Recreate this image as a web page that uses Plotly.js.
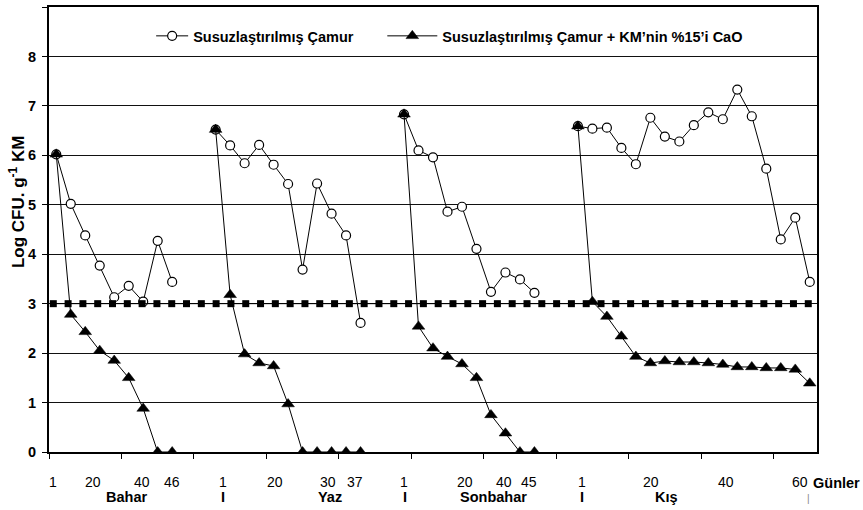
<!DOCTYPE html>
<html>
<head>
<meta charset="utf-8">
<script src="https://cdn.plot.ly/plotly-3.0.1.min.js"></script>
<style>html,body{margin:0;padding:0;background:#fff;}#chart{width:863px;height:510px;}</style>
</head>
<body>
<div id="chart"></div>
<script>
// ---- data (Log CFU g-1 KM) ----
const seriesNames = ['Susuzlaştırılmış Çamur', 'Susuzlaştırılmış Çamur + KM\u2019nin %15\u2019i CaO'];
const seasons = ['Bahar', 'Yaz', 'Sonbahar', 'Kış'];

const baharCamur    = [6.02, 5.02, 4.38, 3.77, 3.13, 3.36, 3.04, 4.27, 3.44];
const yazCamur      = [6.52, 6.20, 5.84, 6.21, 5.81, 5.42, 3.69, 5.43, 4.82, 4.38, 2.61];
const sonbaharCamur = [6.83, 6.10, 5.96, 4.86, 4.96, 4.11, 3.24, 3.63, 3.49, 3.22];
const kisCamur      = [6.59, 6.54, 6.56, 6.15, 5.82, 6.76, 6.38, 6.28, 6.61, 6.87, 6.73, 7.33, 6.79, 5.73, 4.30, 4.74, 3.44];

const baharCaO    = [6.02, 2.78, 2.43, 2.05, 1.85, 1.50, 0.88, 0, 0];
const yazCaO      = [6.52, 3.18, 1.98, 1.80, 1.74, 0.97, 0, 0, 0, 0, 0];
const sonbaharCaO = [6.83, 2.54, 2.10, 1.93, 1.78, 1.50, 0.75, 0.38, 0, 0];
const kisCaO      = [6.59, 3.04, 2.74, 2.34, 1.93, 1.80, 1.84, 1.82, 1.82, 1.80, 1.77, 1.72, 1.72, 1.70, 1.70, 1.67, 1.39];

const limitValue = 3;      // threshold line
const limitCount = 52;     // number of threshold markers

// axis label texts
const yTitle       = 'Log CFU. g<sup>-1</sup> KM';
const dayLabels    = ['1','20','40','46','1','20','30','37','1','20','40','45','1','20','40','60'];
const seasonLabels = ['Bahar','I','Yaz','I','Sonbahar','I','Kış'];
const unitLabel    = 'Günler';

// ---- layout helpers (positions in category units) ----
const gapSize = 2;
const dayLabelPos    = [-0.22, 2.56, 5.9, 7.97, 11.51, 15.1, 18.78, 20.62, 24.0, 28.21, 30.9, 32.65, 36.27, 41.03, 46.23, 51.33];
const seasonLabelPos = [4.87, 11.53, 18.9, 24.07, 30.17, 36.27, 42.13];

function joinSeasons(parts) {
  let out = [];
  parts.forEach((p, i) => {
    out = out.concat(p);
    if (i < parts.length - 1) for (let g = 0; g < gapSize; g++) out.push(null);
  });
  return out;
}
const camurAll = joinSeasons([baharCamur, yazCamur, sonbaharCamur, kisCamur]);
const caoAll   = joinSeasons([baharCaO, yazCaO, sonbaharCaO, kisCaO]);
const xIdx = camurAll.map((_, i) => i);
const limitY = Array.from({length: limitCount}, () => limitValue);
const limitX = limitY.map((_, i) => i);

const FONT = 'Liberation Sans, Arial, sans-serif';

const traces = [
  {
    x: limitX, y: limitY, xaxis: 'x2', yaxis: 'y', type: 'scatter', mode: 'lines+markers',
    line: {color: '#000', width: 1}, marker: {symbol: 'square', size: 7, color: '#000', line: {width: 0}},
    showlegend: false, hoverinfo: 'skip'
  },
  {
    x: xIdx, y: camurAll, type: 'scatter', mode: 'lines+markers', name: seriesNames[0],
    connectgaps: false, line: {color: '#000', width: 1},
    marker: {symbol: 'circle', size: 9, color: '#fff', line: {color: '#000', width: 1.2}},
    legend: 'legend'
  },
  {
    x: xIdx, y: caoAll, type: 'scatter', mode: 'lines+markers', name: seriesNames[1],
    connectgaps: false, line: {color: '#000', width: 1},
    marker: {symbol: 'triangle-up', size: 11, color: '#000', line: {color: '#000', width: 0.5}},
    legend: 'legend2'
  }
];

const annotations = [];
dayLabels.forEach((t, i) => annotations.push({
  x: dayLabelPos[i], xref: 'x', y: -0.0674, yref: 'paper', text: t, showarrow: false,
  xanchor: 'center', yanchor: 'middle', font: {family: FONT, size: 14, color: '#000'}
}));
seasonLabels.forEach((t, i) => annotations.push({
  x: seasonLabelPos[i], xref: 'x', y: -0.101, yref: 'paper', text: '<b>' + t + '</b>', showarrow: false,
  xanchor: 'center', yanchor: 'middle', font: {family: FONT, size: 14.5, color: '#000'}
}));
annotations.push({
  x: 1.0256, xref: 'paper', y: -0.0705, yref: 'paper', text: '<b>' + unitLabel + '</b>', showarrow: false,
  xanchor: 'center', yanchor: 'middle', font: {family: FONT, size: 14.5, color: '#000'}
});
annotations.push({
  x: 0.9887, xref: 'paper', y: -0.1056, yref: 'paper', text: '|', showarrow: false,
  xanchor: 'center', yanchor: 'middle', font: {family: FONT, size: 10, color: '#888'}
});
// y-axis title (placed as rotated text so it can sit off-centre like the original)
annotations.push({
  x: -0.0415, xref: 'paper', y: 0.562, yref: 'paper', text: '<b>' + yTitle + '</b>', textangle: -90,
  showarrow: false, xanchor: 'center', yanchor: 'middle', font: {family: FONT, size: 17, color: '#000'}
});

const legendFont = {family: FONT, size: 14.5, color: '#000', weight: 'bold'};

const layout = {
  width: 863, height: 510,
  margin: {l: 49, r: 46, t: 7, b: 58, pad: 0},
  paper_bgcolor: '#fff', plot_bgcolor: '#fff',
  font: {family: FONT, color: '#000'},
  xaxis: {
    range: [-0.5, 52.5], showgrid: false, zeroline: false, showticklabels: false,
    ticks: 'outside', tick0: -0.5, dtick: 5, ticklen: 5, tickwidth: 1, tickcolor: '#000',
    showline: true, linecolor: '#000', linewidth: 2, mirror: true, fixedrange: true
  },
  xaxis2: {
    overlaying: 'x', anchor: 'y', range: [-0.29, 51.59], visible: false, fixedrange: true
  },
  yaxis: {
    range: [0, 9], dtick: 1, tick0: 0, showgrid: true, gridcolor: '#111', gridwidth: 1, zeroline: false,
    ticks: 'outside', ticklen: 5, tickwidth: 1, tickcolor: '#000', ticklabelstandoff: 3,
    tickfont: {family: FONT, size: 14.5, color: '#000', weight: 'bold'},
    showline: true, linecolor: '#000', linewidth: 2, mirror: true, fixedrange: true
  },
  legend: {
    x: 0.1330, xanchor: 'left', y: 0.935, yanchor: 'middle', orientation: 'h', itemwidth: 32,
    bgcolor: 'rgba(0,0,0,0)', borderwidth: 0, font: legendFont
  },
  legend2: {
    x: 0.4340, xanchor: 'left', y: 0.935, yanchor: 'middle', orientation: 'h', itemwidth: 50,
    bgcolor: 'rgba(0,0,0,0)', borderwidth: 0, font: legendFont
  },
  annotations: annotations
};

Plotly.newPlot('chart', traces, layout, {displayModeBar: false, staticPlot: true});
</script>
</body>
</html>
